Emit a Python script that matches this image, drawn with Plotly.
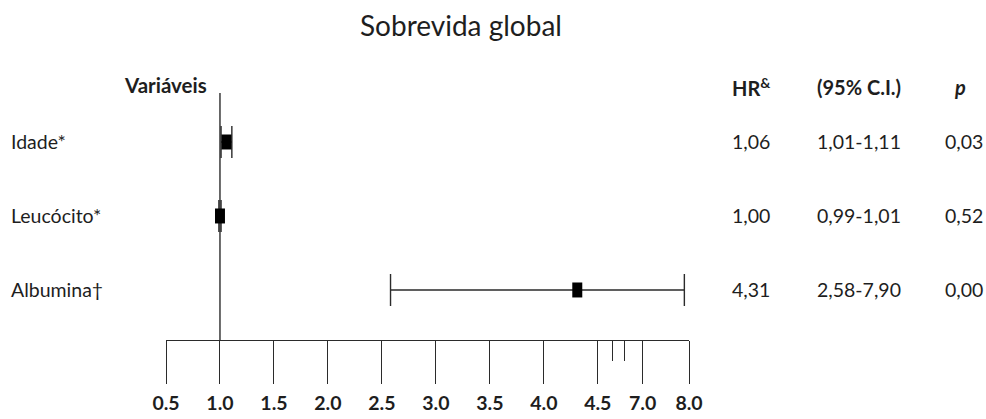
import numpy as np
import plotly.graph_objects as go

# ---- data -------------------------------------------------------------
variables = ["Idade*", "Leucócito*", "Albumina†"]
hr = [1.06, 1.00, 4.31]
ci_low = [1.01, 0.99, 2.58]
ci_high = [1.11, 1.01, 7.90]
p_values = [0.03, 0.52, 0.00]

tick_values = [0.5, 1.0, 1.5, 2.0, 2.5, 3.0, 3.5, 4.0, 4.5, 7.0, 8.0]
tick_labels = ["0.5", "1.0", "1.5", "2.0", "2.5", "3.0", "3.5", "4.0", "4.5", "7.0", "8.0"]
minor_tick_values = [5.3, 6.0]

# ---- broken axis: each tick value gets a slot on a linear display axis --
tick_slots = [0, 1, 2, 3, 4, 5, 6, 7, 8, 8.83, 9.69]


def to_slot(v):
    return np.interp(v, tick_values, tick_slots)


def fmt(v):
    return f"{v:.2f}".replace(".", ",")


# ---- layout geometry (pixels) ----------------------------------------
W, H = 986, 419
L, R, T, B = 166, 297, 93, 79
FONT = "Lato"
INK = "#1e1e1e"
LINE = "#2b2b2b"


def px_x(px):
    return (px - L) / (W - L - R)


def px_y(py):
    return (H - B - py) / (H - T - B)


rows = list(range(len(variables)))
x_hr = to_slot(hr)
err_plus = to_slot(ci_high) - x_hr
err_minus = x_hr - to_slot(ci_low)

fig = go.Figure()
fig.add_trace(
    go.Scatter(
        x=x_hr,
        y=rows,
        mode="markers",
        marker=dict(symbol="line-ns", size=10.7, line=dict(width=10, color="black")),
        error_x=dict(
            type="data",
            symmetric=False,
            array=err_plus,
            arrayminus=err_minus,
            width=16,
            thickness=1.4,
            color=LINE,
        ),
        cliponaxis=False,
        hoverinfo="skip",
        showlegend=False,
    )
)

# reference line at HR = 1
fig.add_shape(
    type="line",
    xref="x",
    yref="paper",
    x0=float(to_slot(1.0)),
    x1=float(to_slot(1.0)),
    y0=0,
    y1=1,
    line=dict(color=LINE, width=1.4),
    layer="below",
)

annotations = []


def text(x_px, y, s, size=19.5, bold=False, anchor="left", yref="y"):
    if bold:
        s = f"<b>{s}</b>"
    annotations.append(
        dict(
            x=px_x(x_px),
            xref="paper",
            y=y,
            yref=yref,
            text=s,
            showarrow=False,
            xanchor=anchor,
            yanchor="middle",
            font=dict(family=FONT, size=size, color=INK),
        )
    )


# title and column headers
text(461, px_y(25), "Sobrevida global", size=28, anchor="center", yref="paper")
text(122, px_y(85), "Variáveis", size=20.5, bold=True, yref="paper")
text(730, px_y(87), "HR<sup>&</sup>", size=20, bold=True, yref="paper")
text(815, px_y(87), "(95% C.I.)", size=20, bold=True, yref="paper")
text(960, px_y(87), "<i>p</i>", size=20, bold=True, anchor="center", yref="paper")

# one row per variable
for r, name, h, lo, hi, p in zip(rows, variables, hr, ci_low, ci_high, p_values):
    text(9, r, name)
    text(730, r, fmt(h))
    text(815, r, f"{fmt(lo)}-{fmt(hi)}")
    text(943, r, fmt(p))

fig.update_layout(
    width=W,
    height=H,
    margin=dict(l=L, r=R, t=T, b=B, autoexpand=False),
    paper_bgcolor="white",
    plot_bgcolor="white",
    annotations=annotations,
    xaxis=dict(
        range=[tick_slots[0], tick_slots[-1]],
        automargin=False,
        showgrid=False,
        zeroline=False,
        showline=True,
        linecolor=LINE,
        linewidth=1.4,
        ticks="outside",
        ticklen=43,
        tickwidth=1.4,
        tickcolor=LINE,
        tickmode="array",
        tickvals=to_slot(tick_values),
        ticktext=tick_labels,
        tickfont=dict(family=FONT, size=19.5, color=INK, weight="bold"),
        ticklabelstandoff=2,
        minor=dict(
            tickmode="array",
            tickvals=to_slot(minor_tick_values),
            ticks="outside",
            ticklen=20,
            tickwidth=1.4,
            tickcolor=LINE,
            showgrid=False,
        ),
        fixedrange=True,
    ),
    yaxis=dict(
        range=[2.676, -0.662],
        automargin=False,
        visible=False,
        fixedrange=True,
    ),
)

fig.write_html("out.html")
